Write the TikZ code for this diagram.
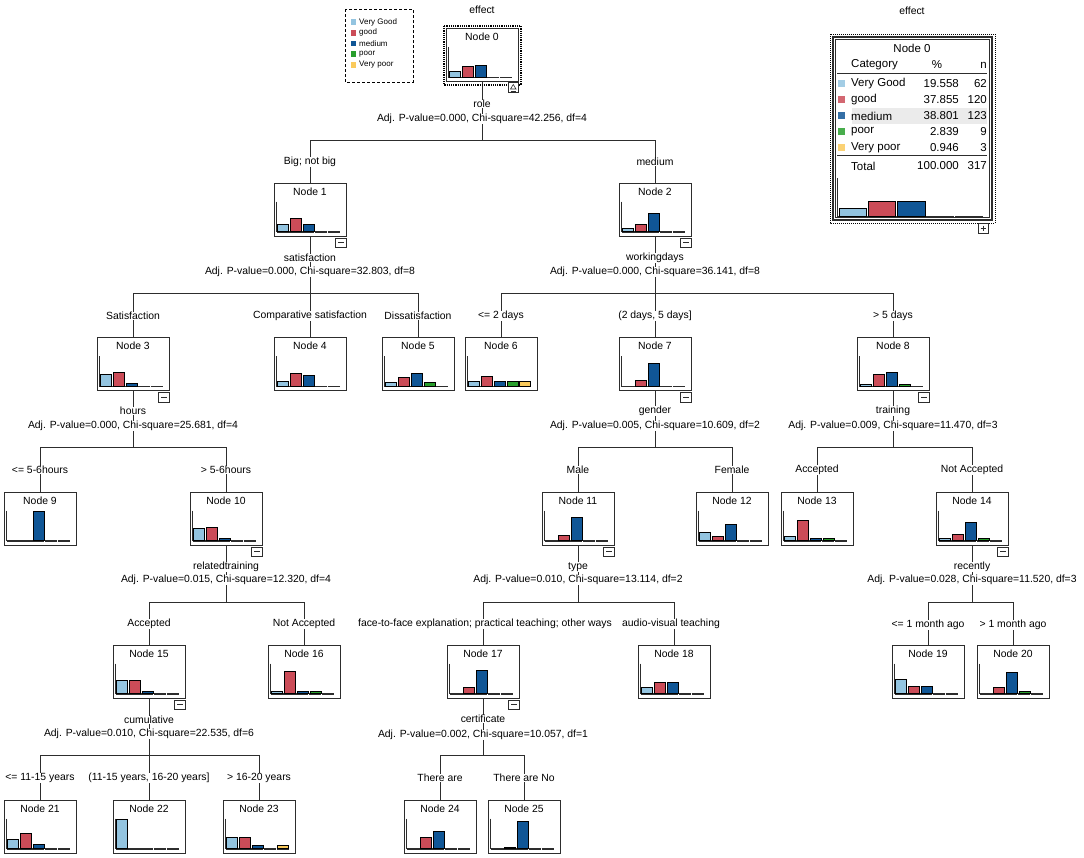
\documentclass[tikz,border=0pt]{standalone}
\usepackage{fontspec}
\setmainfont{Liberation Sans}

\definecolor{vgood}{RGB}{147,196,224}
\definecolor{good}{RGB}{203,76,88}
\definecolor{medium}{RGB}{16,86,150}
\definecolor{poor}{RGB}{40,158,44}
\definecolor{vpoor}{RGB}{250,202,92}
\definecolor{ink}{RGB}{45,45,45}

\newcommand{\histo}[6]{%
  \begin{scope}[shift={(#1.north west)}]
    \draw[ink, line width=0.6pt] (2.5,19) -- (2.5,49.5);
    \foreach \p/\c [count=\i] in {#2/vgood,#3/good,#4/medium,#5/poor,#6/vpoor} {
      \draw[ink, line width=1.3pt] ({3+(\i-1)*12.8},49.6) -- ++(12.2,0);
      \ifdim \p pt>3.5pt
        \draw[black, line width=0.6pt, fill=\c] ({4+(\i-1)*12.8},49) rectangle ++(11,{-\p*0.29});
      \fi
    }
  \end{scope}}
\newcommand{\foldbox}[1]{%
  \begin{scope}[shift={(#1.south east)}]
    \draw[ink, line width=0.7pt, fill=white] (-11,1.5) rectangle (0,11);
    \draw[ink, line width=1pt] (-8.5,6.25) -- (-2.5,6.25);
  \end{scope}}

\begin{document}
\begin{tikzpicture}[x=1pt, y=-1pt, font=\fontsize{10.4}{12}\selectfont,
  box/.style={draw=ink, line width=1pt, fill=white, minimum width=72pt, minimum height=53pt, inner sep=0pt},
  title/.style={below=5pt, inner sep=0pt},
  link/.style={draw=ink, line width=0.9pt},
  split/.style={fill=white, inner sep=0.6pt},
  tiny/.style={font=\fontsize{8}{9}\selectfont, inner sep=0pt, anchor=west},
  cell/.style={font=\fontsize{11.5}{13}\selectfont, inner sep=0pt}]
\useasboundingbox (0,0) rectangle (1084,857);

\node at (482,55) (n0) [box, label={[title]north:Node 0}] {};
\node at (310,209.5) (n1) [box, label={[title]north:Node 1}] {};
\node at (655,209.5) (n2) [box, label={[title]north:Node 2}] {};
\node at (133,364) (n3) [box, label={[title]north:Node 3}] {};
\node at (310,364) (n4) [box, label={[title]north:Node 4}] {};
\node at (418,364) (n5) [box, label={[title]north:Node 5}] {};
\node at (501,364) (n6) [box, label={[title]north:Node 6}] {};
\node at (655,364) (n7) [box, label={[title]north:Node 7}] {};
\node at (893,364) (n8) [box, label={[title]north:Node 8}] {};
\node at (40,518.5) (n9) [box, label={[title]north:Node 9}] {};
\node at (226,518.5) (n10) [box, label={[title]north:Node 10}] {};
\node at (578,518.5) (n11) [box, label={[title]north:Node 11}] {};
\node at (732,518.5) (n12) [box, label={[title]north:Node 12}] {};
\node at (817,518.5) (n13) [box, label={[title]north:Node 13}] {};
\node at (972,518.5) (n14) [box, label={[title]north:Node 14}] {};
\node at (149,671.5) (n15) [box, label={[title]north:Node 15}] {};
\node at (304,671.5) (n16) [box, label={[title]north:Node 16}] {};
\node at (483,671.5) (n17) [box, label={[title]north:Node 17}] {};
\node at (674,671.5) (n18) [box, label={[title]north:Node 18}] {};
\node at (928,671.5) (n19) [box, label={[title]north:Node 19}] {};
\node at (1013,671.5) (n20) [box, label={[title]north:Node 20}] {};
\node at (40,826.5) (n21) [box, label={[title]north:Node 21}] {};
\node at (149,826.5) (n22) [box, label={[title]north:Node 22}] {};
\node at (259,826.5) (n23) [box, label={[title]north:Node 23}] {};
\node at (440,826.5) (n24) [box, label={[title]north:Node 24}] {};
\node at (524,826.5) (n25) [box, label={[title]north:Node 25}] {};

\histo{n0}{19.558}{37.855}{38.801}{2.839}{0.946}
\histo{n1}{24}{47}{24}{3}{2}
\histo{n2}{10}{24}{62}{3}{1}
\histo{n3}{40}{47}{11}{1}{1}
\histo{n4}{16}{44}{36}{2}{2}
\histo{n5}{14}{29}{43}{14}{0}
\histo{n6}{16.7}{33.3}{16.7}{16.7}{16.7}
\histo{n7}{0}{21}{79}{0}{0}
\histo{n8}{7}{40}{46}{5}{1}
\histo{n9}{0}{0}{100}{0}{0}
\histo{n10}{42}{47}{9}{1}{1}
\histo{n11}{2}{19}{79}{0}{0}
\histo{n12}{30}{13}{57}{0}{0}
\histo{n13}{13}{69}{9}{9}{0}
\histo{n14}{7}{22}{64}{7}{0}
\histo{n15}{46}{44}{8}{1}{1}
\histo{n16}{7}{77}{8}{8}{0}
\histo{n17}{0}{20}{80}{0}{0}
\histo{n18}{20}{40}{40}{0}{0}
\histo{n19}{50}{25}{25}{0}{0}
\histo{n20}{0}{20}{72}{8}{0}
\histo{n21}{32}{54}{14}{0}{0}
\histo{n22}{100}{0}{0}{0}{0}
\histo{n23}{40}{40}{10}{0}{10}
\histo{n24}{0}{40}{60}{0}{0}
\histo{n25}{0}{5}{95}{0}{0}

\foreach \n in {n1,n2,n3,n7,n8,n10,n11,n14,n15,n17} {\foldbox{\n}}

\coordinate (b0) at (482,140);
\coordinate (b1) at (310,293);
\coordinate (b2) at (655,293);
\coordinate (b3) at (133,447);
\coordinate (b7) at (655,447);
\coordinate (b8) at (893,447);
\coordinate (b10) at (226,602);
\coordinate (b11) at (578,602);
\coordinate (b14) at (972,602);
\coordinate (b15) at (149,755);
\coordinate (b17) at (483,755);

\draw[link] (n0.south) -- (b0) -| (n1.north);
\draw[link] (b0) -| (n2.north);
\draw[link] (n1.south) -- (b1) -| (n3.north);
\draw[link] (b1) -- (n4.north);
\draw[link] (b1) -| (n5.north);
\draw[link] (n2.south) -- (b2) -| (n6.north);
\draw[link] (b2) -- (n7.north);
\draw[link] (b2) -| (n8.north);
\draw[link] (n3.south) -- (b3) -| (n9.north);
\draw[link] (b3) -| (n10.north);
\draw[link] (n7.south) -- (b7) -| (n11.north);
\draw[link] (b7) -| (n12.north);
\draw[link] (n8.south) -- (b8) -| (n13.north);
\draw[link] (b8) -| (n14.north);
\draw[link] (n10.south) -- (b10) -| (n15.north);
\draw[link] (b10) -| (n16.north);
\draw[link] (n11.south) -- (b11) -| (n17.north);
\draw[link] (b11) -| (n18.north);
\draw[link] (n14.south) -- (b14) -| (n19.north);
\draw[link] (b14) -| (n20.north);
\draw[link] (n15.south) -- (b15) -| (n21.north);
\draw[link] (b15) -- (n22.north);
\draw[link] (b15) -| (n23.north);
\draw[link] (n17.south) -- (b17) -| (n24.north);
\draw[link] (b17) -| (n25.north);

\node at (482,104) (v0) [split] {role};
\node at (482,119) (t0) [split] {Adj. P-value=0.000, Chi-square=42.256, df=4};
\node at (310,258) (v1) [split] {satisfaction};
\node at (310,272) (t1) [split] {Adj. P-value=0.000, Chi-square=32.803, df=8};
\node at (655,258) (v2) [split] {workingdays};
\node at (655,272) (t2) [split] {Adj. P-value=0.000, Chi-square=36.141, df=8};
\node at (133,411) (v3) [split] {hours};
\node at (133,426) (t3) [split] {Adj. P-value=0.000, Chi-square=25.681, df=4};
\node at (655,411) (v7) [split] {gender};
\node at (655,426) (t7) [split] {Adj. P-value=0.005, Chi-square=10.609, df=2};
\node at (893,411) (v8) [split] {training};
\node at (893,426) (t8) [split] {Adj. P-value=0.009, Chi-square=11.470, df=3};
\node at (226,567) (v10) [split] {relatedtraining};
\node at (226,580) (t10) [split] {Adj. P-value=0.015, Chi-square=12.320, df=4};
\node at (578,567) (v11) [split] {type};
\node at (578,580) (t11) [split] {Adj. P-value=0.010, Chi-square=13.114, df=2};
\node at (972,567) (v14) [split] {recently};
\node at (972,580) (t14) [split] {Adj. P-value=0.028, Chi-square=11.520, df=3};
\node at (149,720) (v15) [split] {cumulative};
\node at (149,734) (t15) [split] {Adj. P-value=0.010, Chi-square=22.535, df=6};
\node at (483,719) (v17) [split] {certificate};
\node at (483,735) (t17) [split] {Adj. P-value=0.002, Chi-square=10.057, df=1};

\node at (310,162) (l1) [split] {Big; not big};
\node at (655,162) (l2) [split] {medium};
\node at (133,316) (l3) [split] {Satisfaction};
\node at (310,316) (l4) [split] {Comparative satisfaction};
\node at (418,316) (l5) [split] {Dissatisfaction};
\node at (501,316) (l6) [split] {<= 2 days};
\node at (655,316) (l7) [split] {(2 days, 5 days]};
\node at (893,316) (l8) [split] {> 5 days};
\node at (40,470) (l9) [split] {<= 5-6hours};
\node at (226,470) (l10) [split] {> 5-6hours};
\node at (578,470) (l11) [split] {Male};
\node at (732,470) (l12) [split] {Female};
\node at (817,470) (l13) [split] {Accepted};
\node at (972,470) (l14) [split] {Not Accepted};
\node at (149,624) (l15) [split] {Accepted};
\node at (304,624) (l16) [split] {Not Accepted};
\node at (485,624) (l17) [split] {face-to-face explanation; practical teaching; other ways};
\node at (671,624) (l18) [split] {audio-visual teaching};
\node at (928,625) (l19) [split] {<= 1 month ago};
\node at (1013,625) (l20) [split] {> 1 month ago};
\node at (40,778) (l21) [split] {<= 11-15 years};
\node at (149,778) (l22) [split] {(11-15 years, 16-20 years]};
\node at (259,778) (l23) [split] {> 16-20 years};
\node at (440,778) (l24) [split] {There are};
\node at (524,778) (l25) [split] {There are No};

\node at (482,10) (eff1) {effect};
\draw[densely dotted, line width=1.2pt] (444,26) rectangle (521,85);
\draw[ink, line width=0.7pt, fill=white] (508,82) rectangle (518.5,92.5);
\draw[ink, line width=0.6pt] (510.5,89) -- (513.25,84.5) -- (516,89) -- cycle;
\draw[ink, line width=0.6pt] (510.5,90.8) -- (516,90.8);

\draw[dash pattern=on 3pt off 2pt, line width=0.8pt] (345,9) rectangle (413,82);
\foreach \lab/\c [count=\i] in {Very Good/vgood,good/good,medium/medium,poor/poor,Very poor/vpoor} {
  \fill[\c] (350.5,{11.3+10.7*\i-2.7}) rectangle ++(5.5,5.5);
  \node[tiny] (key\i) at (359,{11.3+10.7*\i}) {\lab};
}

\node at (912,11) (eff2) {effect};
\draw[densely dotted, line width=1pt] (830,34) rectangle (995,223);
\draw[ink, line width=1.3pt] (833,37) rectangle (992,220);
\draw[ink, line width=0.5pt] (835.5,39.5) rectangle (989.5,217.5);
\node[cell] (tab0) at (912,48) {Node 0};
\node[cell, anchor=west] (tabcat) at (851,65) {Category};
\node[cell] (tabpc) at (937,65) {\%};
\node[cell, anchor=east] (tabn) at (987,65) {n};
\draw[ink, line width=1pt] (837,73) -- (987,73);
\fill[black!8] (852,108) rectangle (987,124);
\foreach \lab/\pc/\nn/\c [count=\i] in {Very Good/19.558/62/vgood, good/37.855/120/good, medium/38.801/123/medium, poor/2.839/9/poor, Very poor/0.946/3/vpoor} {
  \fill[\c!85] (838,{68+16*\i-4}) rectangle ++(7,7);
  \node[cell, anchor=west] (cat\i) at (851,{68+16*\i}) {\lab};
  \node[cell, anchor=east] (pc\i) at (959,{68+16*\i}) {\pc};
  \node[cell, anchor=east] (nn\i) at (987,{68+16*\i}) {\nn};
}
\draw[ink, line width=1pt] (837,155) -- (987,155);
\node[cell, anchor=west] (tot) at (851,166) {Total};
\node[cell, anchor=east] (totpc) at (959,166) {100.000};
\node[cell, anchor=east] (totn) at (987,166) {317};
\draw[ink, line width=0.8pt] (837,178) -- (837,217);
\foreach \p/\c [count=\i] in {19.558/vgood,37.855/good,38.801/medium,2.839/poor,0.946/vpoor} {
  \draw[ink, line width=1.5pt] ({838+(\i-1)*29.2},216.5) -- ++(28,0);
  \ifdim \p pt>3.5pt
    \draw[black, line width=0.6pt, fill=\c] ({839+(\i-1)*29.2},216) rectangle ++(27.5,{-\p*0.38});
  \fi
}
\draw[ink, line width=0.7pt, fill=white] (978,223) rectangle (988.5,233.5);
\draw[ink, line width=0.9pt] (980.5,228.25) -- (986,228.25) (983.25,225.5) -- (983.25,231);
\end{tikzpicture}
\end{document}
